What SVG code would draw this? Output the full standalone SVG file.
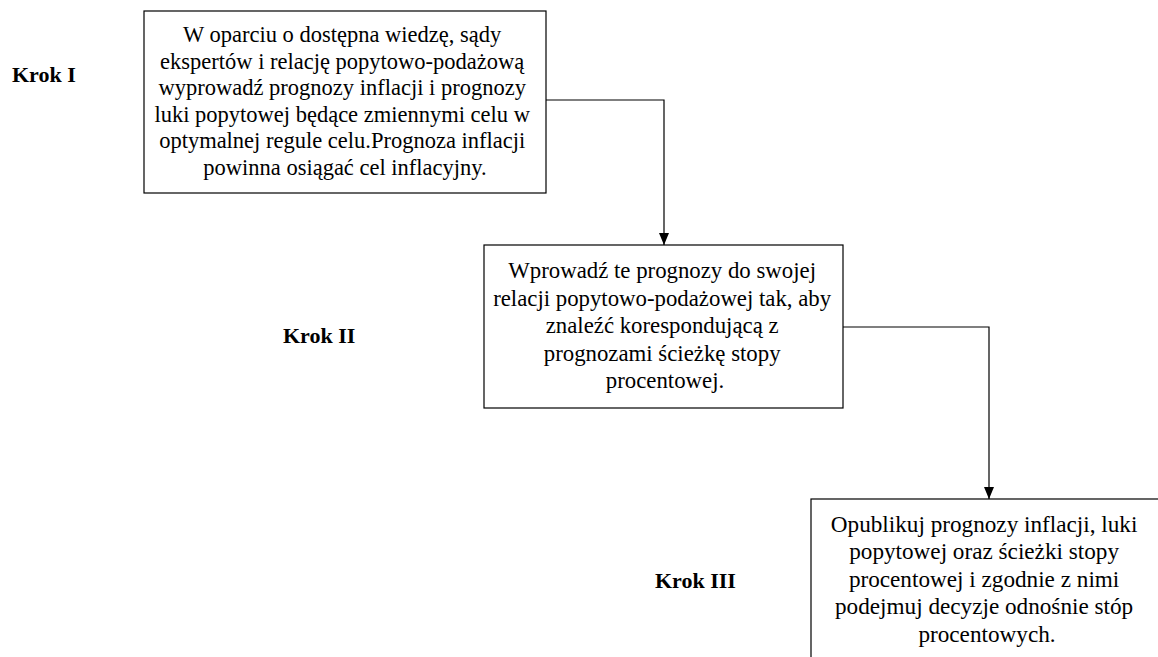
<svg xmlns="http://www.w3.org/2000/svg" width="1158" height="657" viewBox="0 0 1158 657">
<style>
.box{fill:#fff;stroke:#000;stroke-width:1.2}
.t{font-family:"Liberation Serif","Times New Roman",serif;font-size:22.5px;fill:#000;text-anchor:middle}
.k{font-family:"Liberation Serif","Times New Roman",serif;font-size:22px;font-weight:bold;fill:#000}
.c{fill:none;stroke:#000;stroke-width:1.2}
</style>
<defs>
<marker id="ah" markerWidth="12" markerHeight="10" refX="12" refY="5" orient="auto" markerUnits="userSpaceOnUse">
<path d="M0,0 L12,5 L0,10 Z" fill="#000"/>
</marker>
</defs>
<rect width="1158" height="657" fill="#fff"/>
<g id="connectors">
<path class="c" d="M546,100 H664 V245" marker-end="url(#ah)"/>
<path class="c" d="M843,327 H989 V499" marker-end="url(#ah)"/>
</g>
<g id="labels">
<text class="k" x="12" y="82">Krok I</text>
<text class="k" x="283" y="343">Krok II</text>
<text class="k" x="655" y="588">Krok III</text>
</g>
<g id="step1">
<rect class="box" x="144" y="11" width="402" height="182"/>
<text class="t">
<tspan x="345" y="42">W oparciu o dostępna wiedzę, sądy</tspan>
<tspan x="345" y="68.5">ekspertów i relację popytowo-podażową</tspan>
<tspan x="345" y="95">wyprowadź prognozy inflacji i prognozy</tspan>
<tspan x="345" y="121.5">luki popytowej będące zmiennymi celu w</tspan>
<tspan x="345" y="148">optymalnej regule celu.Prognoza inflacji</tspan>
<tspan x="345" y="174.5">powinna osiągać cel inflacyjny.</tspan>
</text>
</g>
<g id="step2">
<rect class="box" x="484" y="245" width="359" height="163"/>
<text class="t" style="font-size:22.8px">
<tspan x="665" y="278">Wprowadź te prognozy do swojej</tspan>
<tspan x="665" y="306">relacji popytowo-podażowej tak, aby</tspan>
<tspan x="665" y="333">znaleźć korespondującą z</tspan>
<tspan x="665" y="361">prognozami ścieżkę stopy</tspan>
<tspan x="665" y="388">procentowej.</tspan>
</text>
</g>
<g id="step3">
<rect class="box" x="811" y="499" width="360" height="170"/>
<text class="t" style="font-size:23.2px">
<tspan x="987" y="532">Opublikuj prognozy inflacji, luki</tspan>
<tspan x="987" y="559">popytowej oraz ścieżki stopy</tspan>
<tspan x="987" y="587">procentowej i zgodnie z nimi</tspan>
<tspan x="987" y="614">podejmuj decyzje odnośnie stóp</tspan>
<tspan x="987" y="642">procentowych.</tspan>
</text>
</g>
</svg>
